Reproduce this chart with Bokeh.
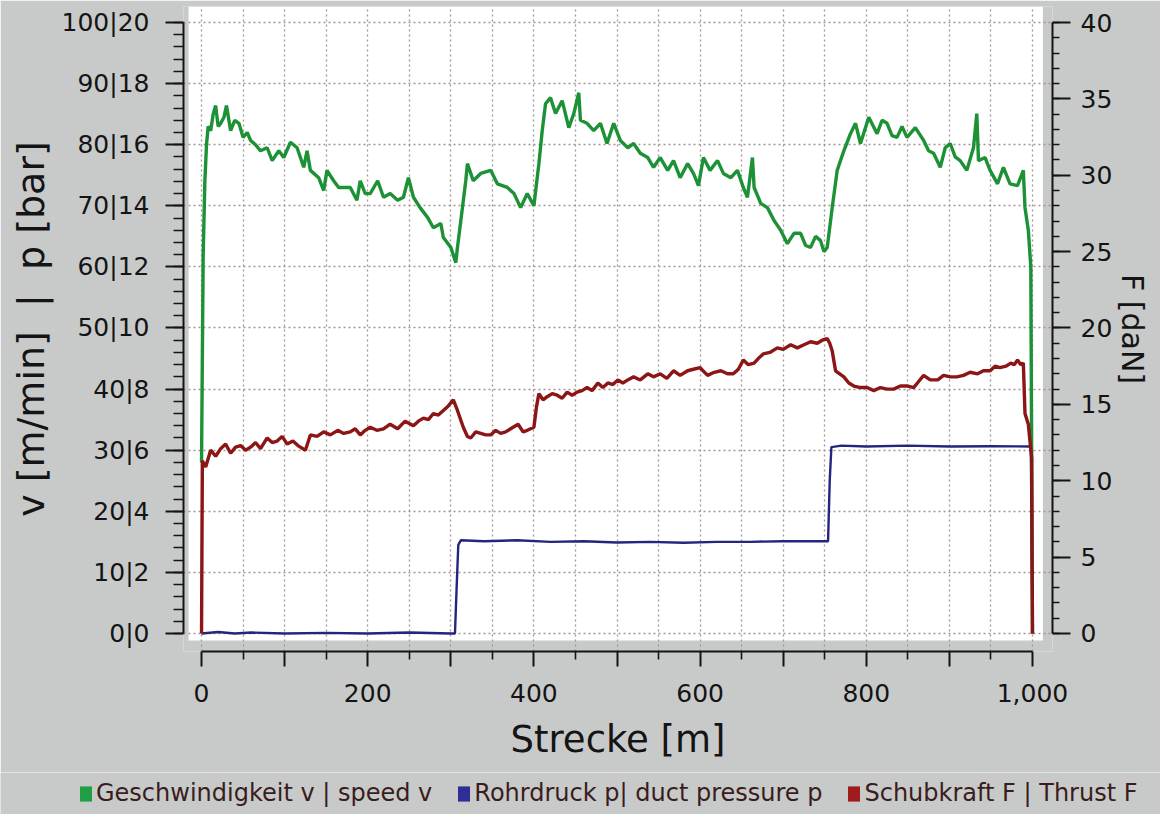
from bokeh.plotting import figure
from bokeh.layouts import column
from bokeh.models import (Range1d, LinearAxis, FixedTicker, BoxAnnotation,
                          Legend, LegendItem)
from bokeh.embed import file_html
from bokeh.resources import INLINE

# ---------------- data ----------------
# speed v [m/min] over distance [m]
dist_v = [0, 2, 4, 6, 8, 11, 14, 17, 20, 23, 27, 30, 35, 40, 45, 50, 55, 59, 65, 71,
          79, 85, 93, 99, 107, 115, 123, 127, 131, 141, 147, 151, 159, 165, 171, 179,
          187, 191, 197, 203, 212, 219, 227, 236, 243, 249, 255, 263, 272, 279, 288,
          291, 300, 306, 308, 314, 318, 320, 327, 336, 348, 356, 368, 376, 384, 392,
          400, 406, 410, 414, 420, 426, 434, 442, 448, 454, 456, 464, 472, 480, 488,
          496, 504, 513, 520, 528, 537, 544, 552, 561, 568, 576, 585, 592, 598, 604,
          612, 621, 628, 637, 645, 652, 657, 663, 665, 673, 681, 689, 697, 705, 713,
          721, 727, 733, 739, 745, 749, 753, 759, 765, 773, 781, 787, 793, 803, 813,
          819, 825, 831, 837, 843, 849, 859, 869, 875, 881, 889, 895, 901, 907, 913,
          921, 929, 933, 935, 943, 949, 958, 965, 973, 982, 989, 991, 995, 998, 1000]
speed_v = [28, 62, 74, 80, 83, 82.3, 85, 86.4, 83, 83.5, 84.5, 86.4, 82.3, 84, 83.5, 81.2,
           82, 80.7, 80, 79, 79.5, 77.4, 79, 77.9, 80.4, 79.5, 76.3, 79, 75.8, 74.6, 72.5,
           75.8, 74.1, 73, 73, 73, 70.9, 74.1, 72, 72, 74.1, 71.4, 72, 70.9, 71.4, 74.6,
           71.4, 69.7, 68.1, 66.4, 67.1, 64.8, 63.2, 60.7, 63.2, 69.7, 74.1, 76.9, 74.1,
           75.3, 75.8, 73.6, 73, 72, 69.7, 72, 70, 76.9, 82.3, 86.7, 87.7, 85.1, 87.2,
           82.8, 85.1, 88.5, 84, 83.5, 82.3, 83.5, 80.2, 83.5, 80.7, 79.5, 80.2, 78.6,
           77.9, 76.3, 77.9, 75.8, 77.4, 74.6, 76.9, 75.3, 73.3, 77.9, 75.8, 77.4, 75.3,
           74.6, 75.8, 73, 71.4, 77.9, 73, 70.4, 69.7, 67.6, 66, 63.8, 65.5, 65.5, 63.5,
           63.2, 65, 64.3, 62.5, 63.2, 69.7, 75.8, 79, 81.8, 83.5, 80.2, 84.5, 81.8, 84,
           83.5, 81.5, 81.2, 83, 81.2, 82.8, 80.7, 79, 78.6, 76.3, 79.5, 80.2, 78, 77.4,
           75.8, 79.5, 85.1, 77.4, 77.9, 75.8, 73.6, 76.3, 73.6, 73.3, 75.8, 69.7, 66,
           60, 0]

# duct pressure p [bar]
dist_p = [0, 20, 40, 60, 100, 150, 200, 250, 300, 305, 307, 309, 312, 340, 380, 420,
          460, 500, 540, 580, 620, 660, 700, 740, 754, 756, 758, 770, 800, 850, 900,
          950, 998, 1000]
pressure_p = [0.0, 0.05, 0.0, 0.03, 0.0, 0.02, 0.0, 0.03, 0.0, 0.0, 1.5, 2.9, 3.05, 3.02,
              3.05, 3.0, 3.02, 2.98, 3.0, 2.97, 3.0, 3.0, 3.02, 3.02, 3.02, 5.0, 6.1,
              6.15, 6.12, 6.15, 6.12, 6.13, 6.12, 0.0]

# thrust F [daN]
dist_f = [0, 1, 5, 11, 17, 23, 29, 35, 41, 47, 53, 59, 65, 71, 79, 85, 91, 97, 103, 110,
          116, 125, 131, 139, 147, 155, 164, 171, 179, 185, 191, 197, 203, 211, 219, 227,
          236, 245, 255, 261, 267, 273, 279, 285, 291, 297, 303, 308, 315, 320, 324, 330,
          336, 342, 348, 354, 360, 366, 372, 381, 387, 392, 400, 403, 406, 411, 416, 422,
          428, 434, 440, 446, 452, 458, 464, 470, 477, 483, 489, 495, 501, 507, 513, 520,
          528, 537, 544, 552, 560, 568, 576, 585, 592, 600, 609, 617, 625, 633, 640, 646,
          652, 658, 665, 670, 676, 684, 693, 700, 709, 717, 725, 733, 741, 747, 753, 756,
          759, 763, 768, 773, 779, 785, 793, 801, 809, 817, 825, 833, 841, 850, 857, 863,
          869, 877, 886, 893, 901, 909, 917, 925, 934, 941, 949, 955, 961, 968, 974, 978,
          982, 986, 989, 991, 995, 999, 1000]
thrust_f = [0, 11.3, 10.9, 12.0, 11.6, 12.1, 12.4, 11.8, 12.2, 12.3, 12.0, 12.2, 12.5,
            12.1, 12.8, 12.5, 12.6, 12.9, 12.4, 12.6, 12.3, 12.0, 13.0, 12.9, 13.2, 13.0,
            13.3, 13.1, 13.2, 13.4, 13.0, 13.3, 13.5, 13.3, 13.4, 13.7, 13.4, 13.9, 13.6,
            13.9, 14.1, 14.0, 14.4, 14.3, 14.6, 14.9, 15.3, 14.6, 13.5, 12.9, 12.8, 13.2,
            13.1, 13.0, 13.0, 13.3, 13.1, 13.2, 13.4, 13.7, 13.2, 13.3, 13.5, 14.8, 15.7,
            15.3, 15.5, 15.7, 15.6, 15.4, 15.8, 15.6, 15.8, 15.9, 16.1, 15.9, 16.4, 16.1,
            16.4, 16.3, 16.6, 16.4, 16.6, 16.8, 16.6, 17.0, 16.8, 17.0, 16.7, 17.2, 16.9,
            17.2, 17.3, 17.4, 16.9, 17.1, 17.2, 17.0, 17.0, 17.3, 17.9, 17.6, 17.7, 18.0,
            18.3, 18.4, 18.7, 18.6, 18.9, 18.7, 18.9, 19.1, 19.0, 19.2, 19.3, 19.0, 18.5,
            17.2, 17.0, 16.8, 16.4, 16.2, 16.1, 16.1, 15.9, 16.1, 16.0, 16.0, 16.2, 16.2,
            16.1, 16.5, 16.9, 16.6, 16.6, 16.9, 16.8, 16.8, 16.9, 17.1, 17.0, 17.2, 17.2,
            17.5, 17.4, 17.5, 17.7, 17.6, 17.9, 17.6, 17.7, 14.4, 13.7, 11.5, 0]

# axis ticks / labels
dist_ticks = [0, 100, 200, 300, 400, 500, 600, 700, 800, 900, 1000]
dist_labels = ["0", "", "200", "", "400", "", "600", "", "800", "", "1,000"]
dist_minor = [50, 150, 250, 350, 450, 550, 650, 750, 850, 950]
dist_grid = list(range(0, 1001, 50))
v_ticks = [0, 10, 20, 30, 40, 50, 60, 70, 80, 90, 100]
p_ticks = [0, 2, 4, 6, 8, 10, 12, 14, 16, 18, 20]
v_minor = list(range(0, 101, 2))
f_ticks = [0, 5, 10, 15, 20, 25, 30, 35, 40]
f_minor = list(range(0, 41, 1))

series_names = ["Geschwindigkeit v | speed v", "Rohrdruck p| duct pressure p",
                "Schubkraft F | Thrust F"]
line_colors = ["#1c9136", "#25257f", "#8c1616"]
swatch_colors = ["#1f9e45", "#2e2e96", "#a01c1c"]

# ---------------- main figure ----------------
BG = "#c8caca"
TXT = "#141414"
FONT = "DejaVu Sans"
NB = "\u00a0"

V_LO, V_HI = -2.95, 102.62
p = figure(width=1160, height=772, output_backend="svg", toolbar_location=None,
           x_range=Range1d(-21.7, 1024.1), y_range=Range1d(V_LO, V_HI),
           min_border_left=183, min_border_right=108, min_border_top=6,
           min_border_bottom=121, background_fill_color=BG, border_fill_color=BG,
           outline_line_color=None)
p.extra_y_ranges = {"F": Range1d(V_LO * 0.4, V_HI * 0.4),
                    "p": Range1d(V_LO / 5, V_HI / 5)}

# white plotting area, separated from the axes by a grey gap
plot_area = BoxAnnotation(left=-15.6, right=1012.5, bottom=-1.15, top=None,
                          fill_color="white", fill_alpha=1.0, line_color=None,
                          level="image")
p.add_layout(plot_area)

# grids
p.xgrid.ticker = FixedTicker(ticks=dist_grid)
p.ygrid.ticker = FixedTicker(ticks=v_ticks)
for g in (p.xgrid, p.ygrid):
    g.grid_line_color = "#a49494"
    g.grid_line_dash = "2 3"
    g.grid_line_width = 1.3


def style_axis(ax, tick_out, minor_out, standoff):
    ax.axis_line_color = TXT
    ax.axis_line_width = 2
    ax.major_tick_line_color = TXT
    ax.minor_tick_line_color = TXT
    ax.major_tick_line_width = 2
    ax.minor_tick_line_width = 1.6
    ax.major_tick_in = 0
    ax.minor_tick_in = 0
    ax.major_tick_out = tick_out
    ax.minor_tick_out = minor_out
    ax.major_label_text_font = FONT
    ax.major_label_text_font_size = "25px"
    ax.major_label_text_color = TXT
    ax.major_label_standoff = standoff
    ax.axis_label_text_font = FONT
    ax.axis_label_text_font_style = "normal"
    ax.axis_label_text_color = TXT


# bottom axis
xax = p.xaxis[0]
xax.ticker = FixedTicker(ticks=dist_ticks, minor_ticks=dist_minor)
xax.major_label_overrides = dict(zip(dist_ticks, dist_labels))
xax.bounds = (0, 1000)
style_axis(xax, 15, 8, 17)
xax.axis_label = "Strecke [m]"
xax.axis_label_text_font_size = "37px"
xax.axis_label_standoff = 13

# left axis (v | p)
yax = p.yaxis[0]
yax.ticker = FixedTicker(ticks=v_ticks, minor_ticks=v_minor)
yax.major_label_overrides = {v: f"{v}|{pp}" for v, pp in zip(v_ticks, p_ticks)}
yax.bounds = (0, 100)
style_axis(yax, 18, 10, 16)
yax.axis_label = f"v [m/min] {NB}|{NB} p [bar]"
yax.axis_label_text_font_size = "38px"
yax.axis_label_standoff = 6

# right axis (F)
fax = LinearAxis(y_range_name="F",
                 ticker=FixedTicker(ticks=f_ticks, minor_ticks=f_minor))
fax.bounds = (0, 40)
style_axis(fax, 18, 7, 10)
fax.axis_label = "F [daN]"
fax.axis_label_text_font_size = "30px"
fax.axis_label_standoff = 0
p.add_layout(fax, "right")

# ---------------- series ----------------
p.line(dist_v, speed_v, line_color=line_colors[0], line_width=3.4)
p.line(dist_p, pressure_p, y_range_name="p", line_color=line_colors[1], line_width=2.4)
p.line(dist_f, thrust_f, y_range_name="F", line_color=line_colors[2], line_width=3.4)

# ---------------- legend strip ----------------
lg = figure(width=1160, height=42, output_backend="svg", toolbar_location=None,
            x_range=Range1d(0, 1), y_range=Range1d(0, 1),
            x_axis_location=None, y_axis_location=None,
            min_border_left=0, min_border_right=0, min_border_top=0,
            min_border_bottom=0, background_fill_color=BG, border_fill_color=BG,
            outline_line_color=None)
lg.xgrid.visible = False
lg.ygrid.visible = False
for fig in (p, lg):
    if "frame_align" in fig.properties():
        fig.frame_align = False
# swatch renderers kept outside the visible range: only their legend squares show
swatches = [lg.quad(left=[5], right=[6], top=[5], bottom=[4], fill_color=c,
                    line_color=None) for c in swatch_colors]
legend = Legend(items=[LegendItem(label=n, renderers=[r])
                       for n, r in zip(series_names, swatches)],
                orientation="horizontal", location=(78, 7),
                background_fill_alpha=0, border_line_color=None,
                label_text_font=FONT, label_text_font_size="24px",
                label_text_color="#3a1c1c", glyph_width=15, glyph_height=19,
                label_standoff=3, spacing=24, padding=0, margin=0)
lg.add_layout(legend)

layout = column(p, lg, spacing=0)
open("out.html", "w").write(file_html(layout, INLINE))
